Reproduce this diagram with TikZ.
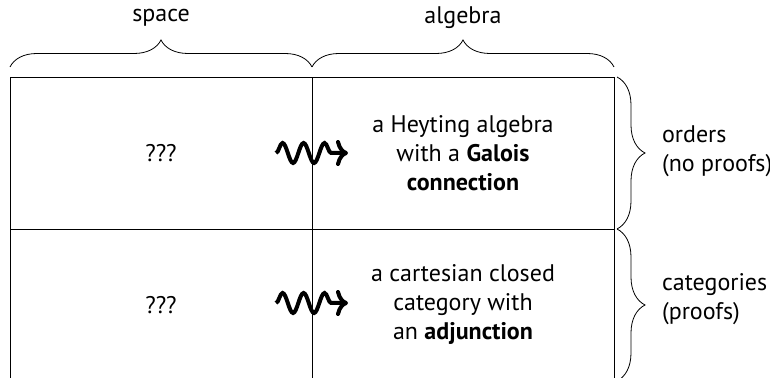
\documentclass[tikz,border=0pt]{standalone}
\usepackage{fontspec}
\setmainfont{PT Sans}
\usetikzlibrary{positioning, arrows.meta, decorations.pathreplacing, decorations.pathmorphing}

\begin{document}
\begin{tikzpicture}[
  cell/.style={draw, minimum width=151pt, minimum height=76pt, inner sep=0pt,
    outer sep=0pt, align=center, font=\fontsize{12}{14.5}\selectfont},
  label/.style={font=\fontsize{12}{14.5}\selectfont},
  side/.style={label, anchor=west, align=left},
  brace/.style={decorate, decoration={brace, amplitude=13.5pt, raise=5pt}},
  rbrace/.style={decorate, decoration={brace, amplitude=14pt, raise=1.5pt}},
  squig/.style={-{To[length=6pt, width=13pt]}, line width=2pt, decorate,
    decoration={snake, amplitude=5pt, segment length=10.5pt, post length=6pt}},
]
\useasboundingbox (-80.5pt,76.5pt) rectangle (304.5pt,-112.5pt);

% --- table ---
\node[cell] (sp1) at (0,0) {???};
\node[cell, right=0pt of sp1] (al1) {a Heyting algebra\\with a \textbf{Galois}\\\textbf{connection}};
\node[cell, below=0pt of sp1] (sp2) {???};
\node[cell, below=0pt of al1] (al2) {a cartesian closed\\category with\\an \textbf{adjunction}};

% --- squiggly arrows ---
\coordinate (a1) at ([xshift=-18pt]sp1.east);
\coordinate (b1) at ([xshift=18pt]al1.west);
\coordinate (a2) at ([xshift=-18pt,yshift=1pt]sp2.east);
\coordinate (b2) at ([xshift=18pt,yshift=1pt]al2.west);
\draw[squig] (a1) -- (b1);
\draw[squig] (a2) -- (b2);

% --- braces on top ---
\draw[brace] (sp1.north west) -- (sp1.north east);
\draw[brace] (al1.north west) -- (al1.north east);
\node[label] (lsp) at ([yshift=29.5pt]sp1.north) {space};
\node[label] (lal) at ([yshift=29.5pt]al1.north) {algebra};

% --- braces on the right ---
\draw[rbrace] (al1.north east) -- (al1.south east);
\draw[rbrace] (al2.north east) -- (al2.south east);
\node[side] (lord) at ([xshift=20.5pt,yshift=1pt]al1.east) {orders\\(no proofs)};
\node[side] (lcat) at ([xshift=20.5pt,yshift=3pt]al2.east) {categories\\(proofs)};

\end{tikzpicture}
\end{document}
